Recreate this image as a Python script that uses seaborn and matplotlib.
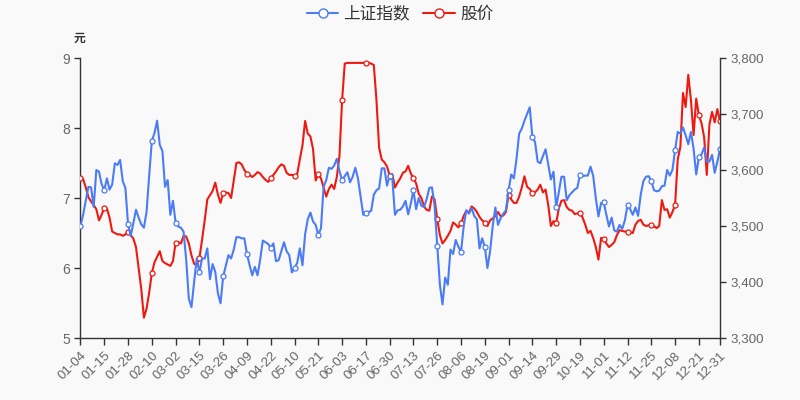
import numpy as np
import pandas as pd
import matplotlib
matplotlib.use("Agg")
import matplotlib.pyplot as plt
from matplotlib.lines import Line2D
from matplotlib.ticker import FuncFormatter, FixedLocator
import seaborn as sns

# ---- categories: 2021 A-share trading days ----
holidays = ['2021-01-01', '2021-02-11', '2021-02-12', '2021-02-15', '2021-02-16',
            '2021-02-17', '2021-04-05', '2021-05-03', '2021-05-04', '2021-05-05',
            '2021-06-14', '2021-09-20', '2021-09-21', '2021-10-01', '2021-10-04',
            '2021-10-05', '2021-10-06', '2021-10-07']
days = pd.bdate_range('2021-01-04', '2021-12-31')
days = days[~days.isin(pd.to_datetime(holidays))]
dates = [d.strftime('%m-%d') for d in days]

# ---- series: 股价 (元, left axis) ----
stock_price = [
    7.29, 7.27, 7.15, 7.01, 6.95, 6.90, 6.84, 6.68, 6.76, 6.86,
    6.85, 6.72, 6.52, 6.50, 6.48, 6.48, 6.46, 6.48, 6.52, 6.47,
    6.42, 6.30, 6.00, 5.70, 5.29, 5.42, 5.65, 5.93, 6.08, 6.16,
    6.24, 6.10, 6.07, 6.05, 6.03, 6.10, 6.36, 6.37, 6.35, 6.46,
    6.45, 6.35, 6.18, 6.06, 6.04, 6.14, 6.40, 6.68, 6.98, 7.04,
    7.10, 7.22, 7.05, 6.93, 7.07, 7.08, 7.07, 7.00, 7.25, 7.50,
    7.51, 7.48, 7.40, 7.35, 7.33, 7.30, 7.33, 7.37, 7.35, 7.30,
    7.26, 7.23, 7.28, 7.33, 7.38, 7.44, 7.48, 7.46, 7.36, 7.33,
    7.33, 7.32, 7.34, 7.55, 7.75, 8.10, 7.92, 7.88, 7.70, 7.25,
    7.34, 7.28, 7.15, 7.02, 7.13, 7.19, 7.13, 7.30, 7.60, 8.40,
    8.92, 8.93, 8.93, 8.93, 8.93, 8.93, 8.93, 8.93, 8.93, 8.93,
    8.92, 8.90, 8.40, 7.72, 7.55, 7.51, 7.45, 7.32, 7.34, 7.15,
    7.22, 7.28, 7.36, 7.38, 7.46, 7.35, 7.28, 7.21, 7.06, 7.00,
    6.88, 6.83, 6.82, 7.02, 6.98, 6.70, 6.47, 6.35, 6.40, 6.46,
    6.53, 6.65, 6.62, 6.58, 6.64, 6.74, 6.82, 6.79, 6.88, 6.85,
    6.80, 6.73, 6.68, 6.65, 6.60, 6.68, 6.71, 6.74, 6.80, 6.74,
    6.75, 6.80, 7.05, 6.98, 6.93, 6.93, 7.02, 7.15, 7.31, 7.16,
    7.13, 7.07, 7.08, 7.12, 7.19, 7.08, 7.12, 6.90, 6.60, 6.67,
    6.64, 6.85, 6.96, 6.97, 6.87, 6.83, 6.82, 6.77, 6.78, 6.79,
    6.72, 6.62, 6.50, 6.53, 6.43, 6.30, 6.12, 6.43, 6.41, 6.35,
    6.30, 6.33, 6.37, 6.47, 6.54, 6.53, 6.52, 6.52, 6.51, 6.50,
    6.62, 6.67, 6.69, 6.62, 6.60, 6.61, 6.61, 6.60, 6.57, 6.60,
    6.97, 6.83, 6.84, 6.72, 6.80, 6.90, 7.55, 7.73, 8.50, 8.30,
    8.76, 8.40, 7.90, 8.42, 8.18, 8.07, 7.87, 7.33, 8.05, 8.23,
    8.08, 8.27, 8.10,
]

# ---- series: 上证指数 (right axis) ----
sh_index = [
    3500, 3520, 3545, 3570, 3569, 3534, 3600, 3597, 3575, 3564,
    3585, 3565, 3574, 3612, 3609, 3618, 3580, 3568, 3503, 3482,
    3505, 3529, 3515, 3503, 3497, 3525, 3590, 3652, 3666, 3688,
    3645, 3634, 3570, 3582, 3520, 3545, 3506, 3499, 3497, 3490,
    3440, 3370, 3355, 3400, 3442, 3417, 3442, 3442, 3460, 3405,
    3432, 3418, 3380, 3362, 3410, 3429, 3448, 3442, 3458, 3480,
    3480, 3478, 3478, 3450, 3430, 3412, 3427, 3412, 3440, 3474,
    3471, 3468, 3461, 3469, 3437, 3439, 3455, 3471, 3455, 3448,
    3417, 3425, 3434, 3460, 3430, 3485, 3512, 3524, 3508, 3502,
    3484, 3496, 3570, 3582, 3604, 3602, 3608, 3620, 3598, 3582,
    3589, 3596, 3578, 3588, 3604, 3585, 3552, 3520, 3523, 3525,
    3527, 3556, 3564, 3567, 3603, 3603, 3572, 3590, 3585, 3520,
    3528, 3529, 3535, 3545, 3521, 3540, 3564, 3530, 3550, 3536,
    3534, 3548, 3568, 3569, 3536, 3465, 3395, 3360, 3408, 3395,
    3458, 3450, 3475, 3463, 3454, 3499, 3528, 3522, 3532, 3518,
    3512, 3460, 3478, 3463, 3425, 3455, 3500, 3533, 3502, 3514,
    3522, 3528, 3564, 3592, 3585, 3620, 3665, 3674, 3688, 3700,
    3712, 3659, 3650, 3615, 3612, 3625, 3637, 3610, 3583, 3597,
    3534, 3560, 3588, 3588, 3546, 3555, 3560, 3565, 3568, 3591,
    3589, 3590, 3590, 3606, 3590, 3550, 3517, 3541, 3542, 3520,
    3499, 3515, 3492, 3490, 3502, 3495, 3510, 3537, 3530, 3520,
    3533, 3518, 3556, 3580, 3588, 3589, 3581, 3564, 3562, 3563,
    3571, 3572, 3600, 3590, 3600, 3635, 3668, 3665, 3676, 3662,
    3646, 3668, 3638, 3592, 3623, 3628, 3640, 3615, 3615, 3627,
    3595, 3615, 3637,
]

left_ticks = [5, 6, 7, 8, 9]
right_ticks = [3300, 3400, 3500, 3600, 3700, 3800]

n = len(dates)
df = pd.DataFrame({'idx': np.arange(n), 'date': dates,
                   'price': stock_price, 'index': sh_index})

BLUE = '#4b7bf5'
RED = '#ee1a12'
BG = '#f9f9f9'
AXC = '#333333'
TXC = '#666666'
NUMFONT = ['Liberation Sans', 'DejaVu Sans']

sns.set_theme(style='white')
plt.rcParams['font.family'] = ['Noto Sans CJK SC', 'DejaVu Sans']

fig = plt.figure(figsize=(8, 4), dpi=100, facecolor=BG)
ax = fig.add_axes([0.1006, 0.155, 0.7994, 0.70])
ax.set_facecolor(BG)
ax2 = ax.twinx()

step = 9
mark_idx = list(range(0, n, step))
if mark_idx[-1] != n - 1:
    mark_idx.append(n - 1)

sns.lineplot(data=df, x='idx', y='index', ax=ax2, color=BLUE, linewidth=1.5,
             marker='o', markevery=mark_idx, markersize=3.6,
             markerfacecolor='white', markeredgecolor=BLUE, markeredgewidth=0.9)
sns.lineplot(data=df, x='idx', y='price', ax=ax, color=RED, linewidth=1.5,
             marker='o', markevery=mark_idx, markersize=3.6,
             markerfacecolor='white', markeredgecolor=RED, markeredgewidth=0.9,
             zorder=3)

ax.set_xlim(0, n - 1)
ax.set_ylim(5, 9)
ax2.set_ylim(3300, 3800)
ax.set_yticks(left_ticks)
ax2.set_yticks(right_ticks)
ax2.yaxis.set_major_formatter(FuncFormatter(lambda v, p: f'{int(v):,}'))

ax.xaxis.set_major_locator(FixedLocator(mark_idx))
ax.set_xticklabels([dates[i] for i in mark_idx], rotation=45, ha='right',
                   rotation_mode='anchor', fontsize=9.6, color=TXC, family=NUMFONT)
ax.set_xlabel('')
ax.set_ylabel('')
ax2.set_ylabel('')

for a in (ax, ax2):
    a.grid(False)
    for s in a.spines.values():
        s.set_visible(False)
ax.spines['left'].set_visible(True)
ax.spines['bottom'].set_visible(True)
ax2.spines['right'].set_visible(True)
for s in (ax.spines['left'], ax.spines['bottom'], ax2.spines['right']):
    s.set_color(AXC)
    s.set_linewidth(1.0)

ax.tick_params(axis='x', length=5, width=1, color=AXC, pad=3, bottom=True)
ax.tick_params(axis='y', length=4, width=1, color=AXC, labelsize=10, labelcolor=TXC, left=True)
ax2.tick_params(axis='y', length=4, width=1, color=AXC, labelsize=9.6, labelcolor=TXC, right=True)
for lab in ax.get_yticklabels() + ax2.get_yticklabels():
    lab.set_family(NUMFONT)

fig.text(0.099, 0.905, '元', ha='center', va='center', fontsize=8.5,
         fontweight='bold', color=AXC)

handles = [
    Line2D([0], [0], color=BLUE, lw=1.5, marker='o', markersize=6.5,
           markerfacecolor='white', markeredgecolor=BLUE),
    Line2D([0], [0], color=RED, lw=1.5, marker='o', markersize=6.5,
           markerfacecolor='white', markeredgecolor=RED),
]
fig.legend(handles, ['上证指数', '股价'], loc='center', bbox_to_anchor=(0.5, 0.965),
           ncol=2, frameon=False, fontsize=12, handlelength=1.9,
           handletextpad=0.3, columnspacing=0.8, labelcolor=AXC)

fig.savefig('out.png', dpi=100, facecolor=BG)
